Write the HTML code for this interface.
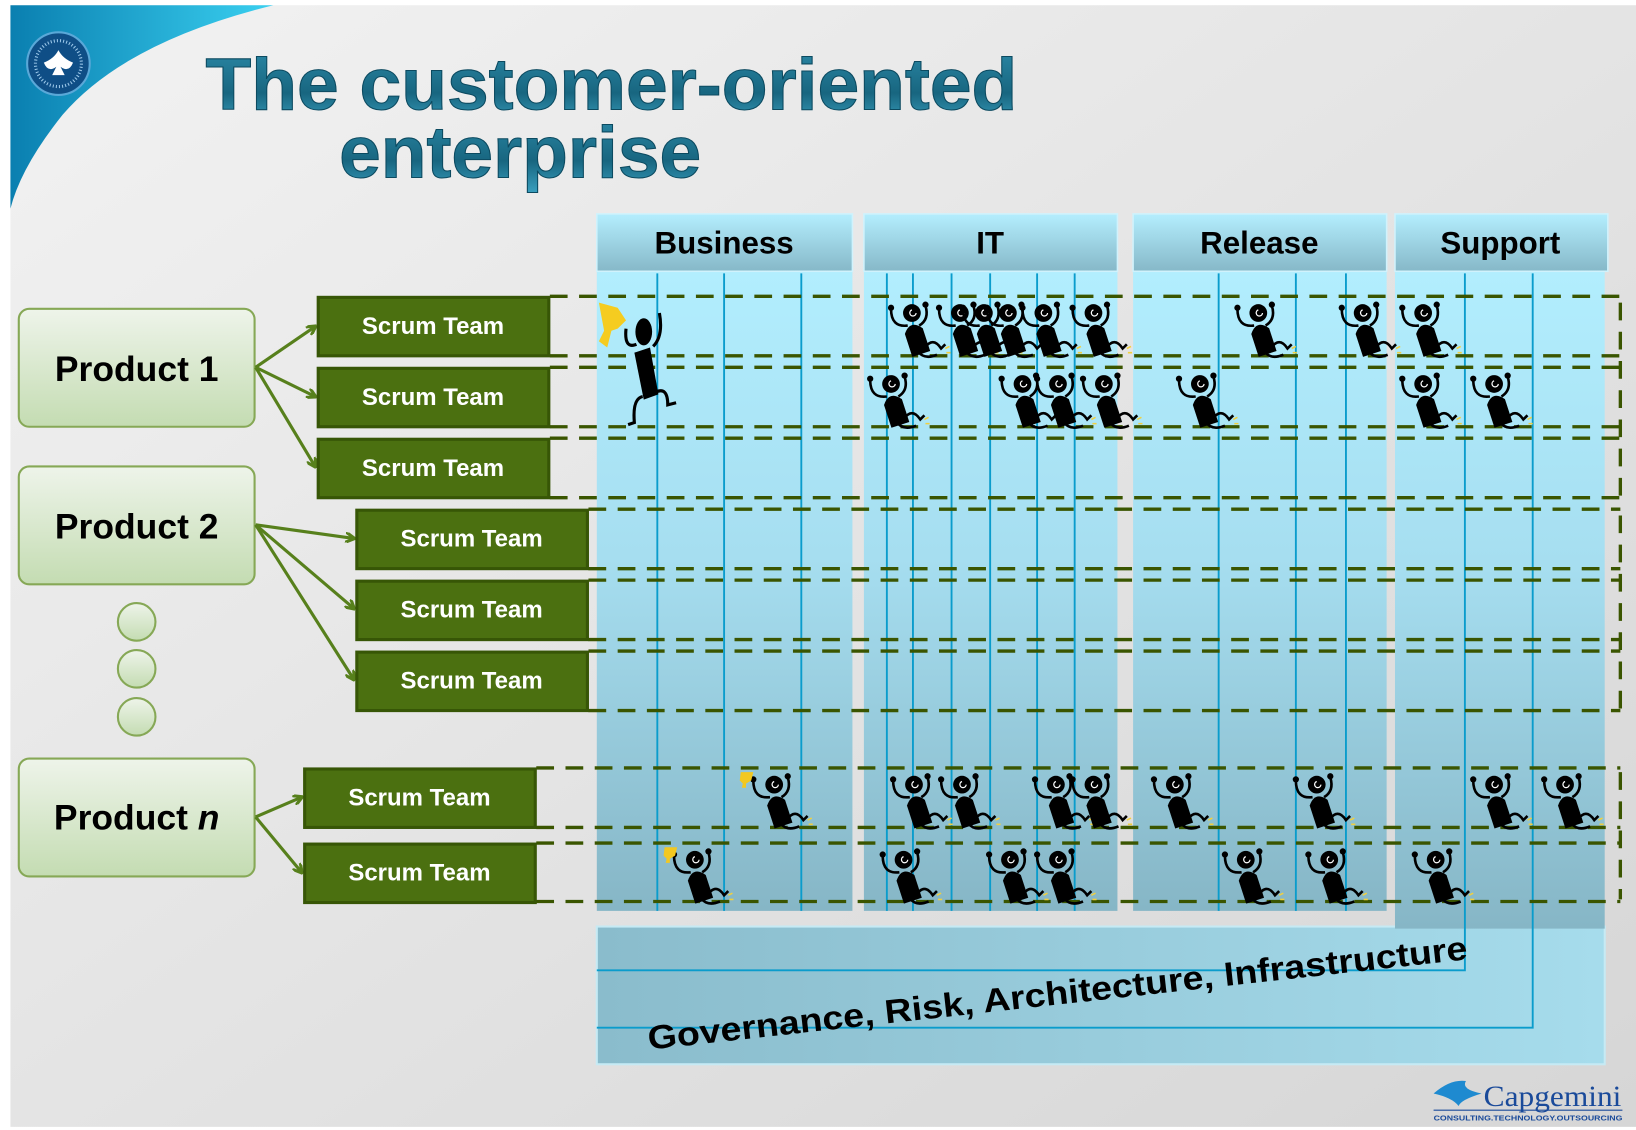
<!DOCTYPE html>
<html><head><meta charset="utf-8"><style>
html,body{margin:0;padding:0;background:#fff;width:1636px;height:1130px;overflow:hidden}
svg{display:block}
text{font-family:"Liberation Sans",Arial,sans-serif;font-weight:bold}
</style></head><body>
<svg width="1636" height="1130" viewBox="0 0 1568 1083" preserveAspectRatio="none" xmlns="http://www.w3.org/2000/svg">
<defs>
<linearGradient id="bg" x1="0" y1="0" x2="1" y2="1"><stop offset="0" stop-color="#f2f2f2"/><stop offset="1" stop-color="#d6d6d6"/></linearGradient>
<linearGradient id="sw" x1="0" y1="0" x2="1" y2="0"><stop offset="0" stop-color="#0a7fb0"/><stop offset="1" stop-color="#3ad0f0"/></linearGradient>
<linearGradient id="col" x1="0" y1="0" x2="0" y2="1"><stop offset="0" stop-color="#b2eefe"/><stop offset="0.45" stop-color="#a6def0"/><stop offset="1" stop-color="#86b6c6"/></linearGradient>
<linearGradient id="gov" x1="0" y1="0" x2="1" y2="0"><stop offset="0" stop-color="#8abccc"/><stop offset="1" stop-color="#a6dcec"/></linearGradient>
<linearGradient id="hdr" x1="0" y1="0" x2="0" y2="1"><stop offset="0" stop-color="#b4eefe"/><stop offset="1" stop-color="#86b8c8"/></linearGradient>
<linearGradient id="prod" x1="0" y1="0" x2="0" y2="1"><stop offset="0" stop-color="#eef4ea"/><stop offset="1" stop-color="#c4dcb2"/></linearGradient>
<linearGradient id="tt" x1="0" y1="0" x2="0" y2="1"><stop offset="0" stop-color="#2c8aa8"/><stop offset="0.6" stop-color="#186680"/><stop offset="1" stop-color="#3aa0c0"/></linearGradient>
<marker id="ar" markerWidth="10" markerHeight="10" refX="8" refY="5" orient="auto" markerUnits="userSpaceOnUse"><path d="M0,0 L9,5 L0,10" fill="none" stroke="#57801c" stroke-width="3"/></marker>
<g id="fig">
<path d="M-4,12 Q-20,14 -20,-4" fill="none" stroke="#000" stroke-width="2.5"/>
<circle cx="-20" cy="-5" r="3" fill="#000"/>
<path d="M7,12 Q17,6 13,-7" fill="none" stroke="#000" stroke-width="2.5"/>
<circle cx="13" cy="-8" r="3" fill="#000"/>
<path d="M12,34 Q20,22 28,34 L32,30 M6,37 Q12,45 24,40" fill="none" stroke="#000" stroke-width="2.5"/>
<g transform="rotate(-18 4 24)"><path d="M-5,40 L-5,17 Q4,5 13,17 L13,40 Z" fill="#000"/></g>
<circle cx="0" cy="0" r="8.5" fill="#000"/>
<path d="M0,-3 a3,3 0 1,0 4,3" fill="none" stroke="#fff" stroke-width="1.2"/>
<path d="M32,34 l4,-2 M33,38 l4,0" stroke="#f0d040" stroke-width="1.5"/>
</g>
</defs>
<rect x="10" y="5" width="1558" height="1075" fill="url(#bg)"/>
<path d="M10,5 L262,5 Q120,40 60,110 Q20,160 10,200 Z" fill="url(#sw)"/>
<circle cx="56" cy="61" r="30" fill="#0f4e86" stroke="#5aa8d8" stroke-width="2"/>
<circle cx="56" cy="61" r="22" fill="none" stroke="#9cc8ea" stroke-width="3" stroke-dasharray="1 2"/>
<path d="M56,48 Q60,56 70,60 Q66,70 58,64 L62,72 L50,72 L54,64 Q46,70 42,60 Q52,56 56,48 Z" fill="#fff"/>
<text x="197" y="105" font-size="70" textLength="778" lengthAdjust="spacingAndGlyphs" fill="url(#tt)" stroke="#0c4a60" stroke-width="1">The customer-oriented</text>
<text x="325" y="170" font-size="70" textLength="347" lengthAdjust="spacingAndGlyphs" fill="url(#tt)" stroke="#0c4a60" stroke-width="1">enterprise</text>
<rect x="572" y="888" width="966" height="132" fill="url(#gov)" stroke="#c6eaf4" stroke-width="2"/>
<g fill="url(#col)">
<rect x="572" y="258" width="245" height="615"/>
<rect x="828" y="258" width="243" height="615"/>
<rect x="1086" y="258" width="243" height="615"/>
<rect x="1337" y="258" width="201" height="632"/>
</g>
<g fill="url(#hdr)" stroke="#d0f2fc" stroke-width="1.5">
<rect x="572" y="205" width="245" height="55"/>
<rect x="828" y="205" width="243" height="55"/>
<rect x="1086" y="205" width="243" height="55"/>
<rect x="1337" y="205" width="204" height="55"/>
</g>
<g font-size="30" fill="#000" text-anchor="middle">
<text x="694" y="243">Business</text>
<text x="949" y="243">IT</text>
<text x="1207" y="243">Release</text>
<text x="1438" y="243">Support</text>
</g>
<g stroke="#0a9ccc" stroke-width="1.8" fill="none">
<path d="M630,262V873M694,262V873M768,262V873M850,262V873M875,262V873M912,262V873M949,262V873M994,262V873M1030,262V873M1168,262V873M1242,262V873M1290,262V873"/>
<path d="M1404,262V930H572M1469,262V985H572"/>
</g>
<text x="0" y="0" font-size="32" fill="#000" transform="translate(622,1006) rotate(-6.3)" textLength="790" lengthAdjust="spacingAndGlyphs">Governance, Risk, Architecture, Infrastructure</text>
<g stroke="#3a5500" stroke-width="3.2" stroke-dasharray="17 11" fill="none">
<path d="M527,284H1553M527,341H1553M527,352H1553M527,409H1553M527,420H1553M527,477H1553"/>
<path d="M564,488H1553M564,545H1553M564,556H1553M564,613H1553M564,624H1553M564,681H1553"/>
<path d="M514,736H1553M514,793H1553M514,808H1553M514,864H1553"/>
<path d="M1553,290V480M1553,494V680M1553,740V862"/>
</g>
<g stroke="#86a856" stroke-width="2" fill="url(#prod)">
<rect x="18" y="296" width="226" height="113" rx="10"/>
<rect x="18" y="447" width="226" height="113" rx="10"/>
<rect x="18" y="727" width="226" height="113" rx="10"/>
<circle cx="131" cy="596" r="18"/><circle cx="131" cy="641" r="18"/><circle cx="131" cy="687" r="18"/>
</g>
<g font-size="34" fill="#000" text-anchor="middle">
<text x="131" y="365">Product 1</text>
<text x="131" y="516">Product 2</text>
<text x="131" y="795">Product <tspan font-style="italic">n</tspan></text>
</g>
<g stroke="#57801c" stroke-width="3" marker-end="url(#ar)">
<line x1="245" y1="352" x2="302" y2="313"/>
<line x1="245" y1="352" x2="302" y2="380"/>
<line x1="245" y1="352" x2="302" y2="447"/>
<line x1="245" y1="503" x2="339" y2="516"/>
<line x1="245" y1="503" x2="339" y2="583"/>
<line x1="245" y1="503" x2="339" y2="651"/>
<line x1="245" y1="783" x2="289" y2="764"/>
<line x1="245" y1="783" x2="289" y2="836"/>
</g>
<g fill="#4b7010" stroke="#375606" stroke-width="3">
<rect x="305" y="285" width="221" height="56"/>
<rect x="305" y="353" width="221" height="56"/>
<rect x="305" y="421" width="221" height="56"/>
<rect x="342" y="489" width="221" height="56"/>
<rect x="342" y="557" width="221" height="56"/>
<rect x="342" y="625" width="221" height="56"/>
<rect x="292" y="737" width="221" height="56"/>
<rect x="292" y="809" width="221" height="56"/>
</g>
<g font-size="23" fill="#fff" text-anchor="middle">
<text x="415" y="320">Scrum Team</text>
<text x="415" y="388">Scrum Team</text>
<text x="415" y="456">Scrum Team</text>
<text x="452" y="524">Scrum Team</text>
<text x="452" y="592">Scrum Team</text>
<text x="452" y="660">Scrum Team</text>
<text x="402" y="772">Scrum Team</text>
<text x="402" y="844">Scrum Team</text>
</g>
<g>
<use href="#fig" x="874" y="300"/><use href="#fig" x="920" y="300"/><use href="#fig" x="943" y="300"/><use href="#fig" x="966" y="300"/><use href="#fig" x="1000" y="300"/><use href="#fig" x="1048" y="300"/>
<use href="#fig" x="1206" y="300"/><use href="#fig" x="1306" y="300"/><use href="#fig" x="1364" y="300"/>
<use href="#fig" x="854" y="368"/><use href="#fig" x="980" y="368"/><use href="#fig" x="1014" y="368"/><use href="#fig" x="1058" y="368"/><use href="#fig" x="1150" y="368"/><use href="#fig" x="1364" y="368"/><use href="#fig" x="1432" y="368"/>
<use href="#fig" x="742" y="752"/><use href="#fig" x="876" y="752"/><use href="#fig" x="922" y="752"/><use href="#fig" x="1012" y="752"/><use href="#fig" x="1048" y="752"/><use href="#fig" x="1126" y="752"/><use href="#fig" x="1262" y="752"/><use href="#fig" x="1432" y="752"/><use href="#fig" x="1500" y="752"/>
<use href="#fig" x="666" y="824"/><use href="#fig" x="866" y="824"/><use href="#fig" x="968" y="824"/><use href="#fig" x="1014" y="824"/><use href="#fig" x="1194" y="824"/><use href="#fig" x="1274" y="824"/><use href="#fig" x="1376" y="824"/>
</g>
<path d="M710,740 l12,0 l-2,8 l-5,3 l0,4 l-4,0 l1,-4 l-3,-3 z" fill="#f2c820"/>
<path d="M637,812 l12,0 l-2,8 l-5,3 l0,4 l-4,0 l1,-4 l-3,-3 z" fill="#f2c820"/>
<g>
<path d="M574,290 l18,5 l8,12 l-8,8 l-6,2 l-4,16 l-8,-6 l5,-10 z" fill="#f5cc20"/>
<ellipse cx="617" cy="318" rx="8" ry="13" fill="#000"/>
<path d="M610,330 Q598,335 600,315 M626,332 Q636,322 632,300" fill="none" stroke="#000" stroke-width="3"/>
<path d="M608,338 L623,333 L631,378 L617,383 Z" fill="#000"/>
<path d="M616,380 Q606,382 608,405 L602,407 M628,376 Q640,370 640,388 L648,386" fill="none" stroke="#000" stroke-width="3"/>
</g>
<path d="M1374,1048 Q1390,1034 1405,1036 Q1400,1044 1420,1048 Q1400,1054 1398,1060 Q1392,1052 1374,1048 Z" fill="#1e8ad0"/>
<text x="1422" y="1060" font-size="28" fill="#1a4a9a" style="font-family:'Liberation Serif',serif;font-weight:normal" textLength="132" lengthAdjust="spacingAndGlyphs">Capgemini</text>
<line x1="1374" y1="1064" x2="1555" y2="1064" stroke="#1a4a9a" stroke-width="1"/>
<text x="1374" y="1074" font-size="7" fill="#1a4a9a" textLength="181" lengthAdjust="spacingAndGlyphs">CONSULTING.TECHNOLOGY.OUTSOURCING</text>
</svg>
</body></html>
